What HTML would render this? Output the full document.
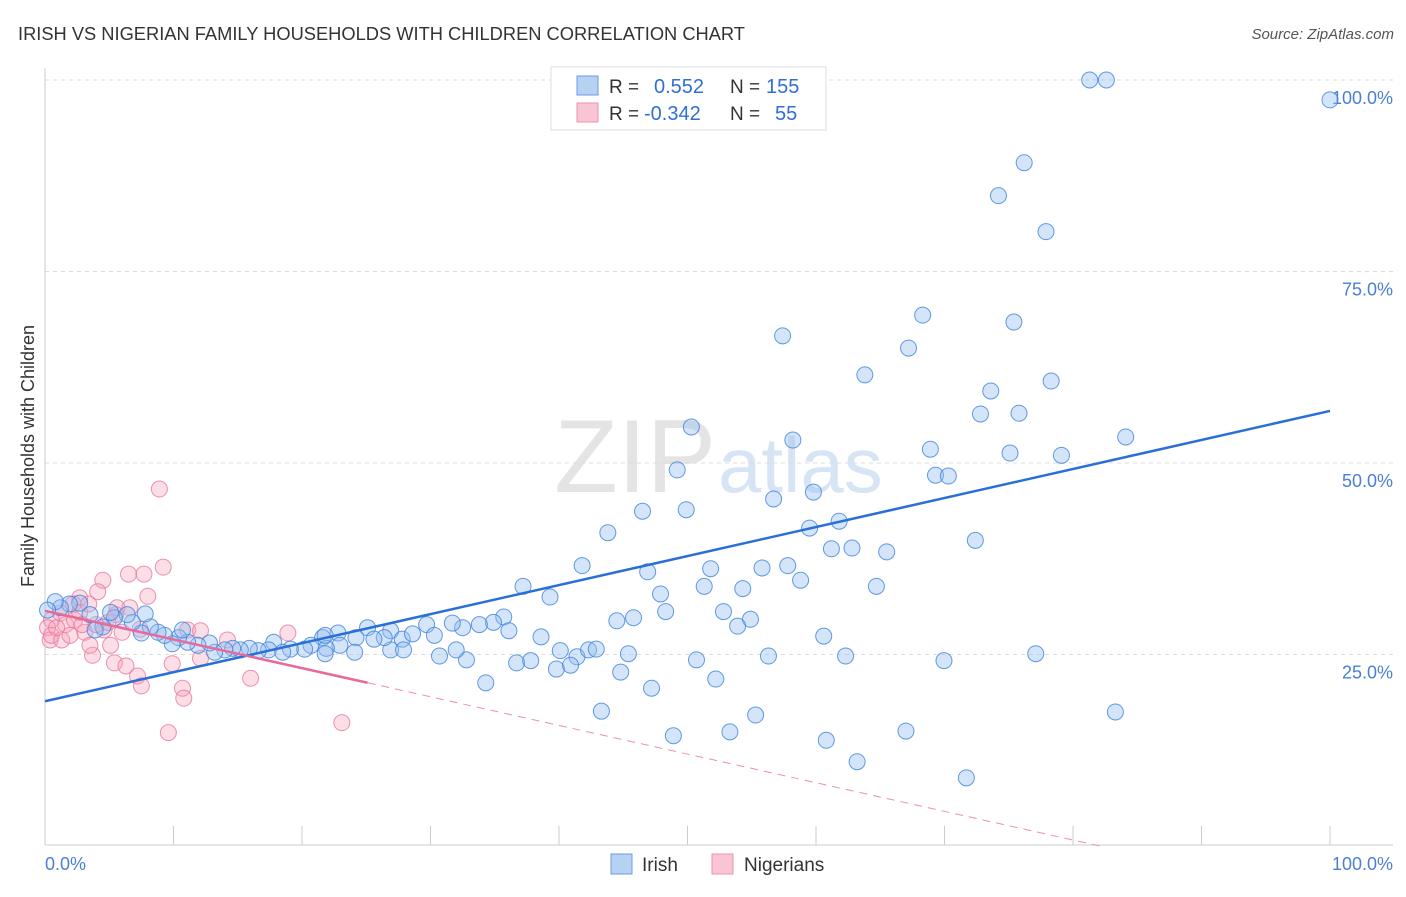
<!DOCTYPE html>
<html><head><meta charset="utf-8"><style>
body{margin:0;background:#fff;font-family:"Liberation Sans",sans-serif;}
svg text{font-family:"Liberation Sans",sans-serif;}
</style></head><body>
<svg id="chart" width="1406" height="892" xmlns="http://www.w3.org/2000/svg">
<text x="18" y="40" font-size="18.3" fill="#333">IRISH VS NIGERIAN FAMILY HOUSEHOLDS WITH CHILDREN CORRELATION CHART</text>
<text x="1394" y="39" font-size="15" fill="#555" font-style="italic" text-anchor="end">Source: ZipAtlas.com</text>
<text x="716" y="492" font-size="104" fill="#e4e4e4" text-anchor="end" font-family="Liberation Serif">ZIP</text>
<text x="718" y="492" font-size="78" fill="#d6e4f5">atlas</text>
<g id="grid"></g>
<g id="axes"></g>
<g id="trends"></g>
<g id="pts"></g>
<text transform="translate(34,456) rotate(-90)" font-size="18" fill="#333" text-anchor="middle">Family Households with Children</text>
<text x="45" y="870" font-size="18" fill="#4a7fd4">0.0%</text>
<text x="1393" y="870" font-size="18" fill="#4a7fd4" text-anchor="end">100.0%</text>
<g>
<rect x="551" y="67" width="275" height="63" fill="#fff" stroke="#ddd"/>
<rect x="577" y="76" width="21" height="19" fill="#b7d1f3" stroke="#6a9be0"/>
<rect x="577" y="103" width="21" height="19" fill="#f9c5d4" stroke="#ec93ae"/>
<text x="609" y="93" font-size="19" fill="#333">R =</text>
<text x="654" y="93" font-size="20" fill="#2f6fd6">0.552</text>
<text x="730" y="93" font-size="19" fill="#333">N =</text>
<text x="766" y="93" font-size="20" fill="#2f6fd6">155</text>
<text x="609" y="120" font-size="19" fill="#333">R =</text>
<text x="644" y="120" font-size="20" fill="#2f6fd6">-0.342</text>
<text x="730" y="120" font-size="19" fill="#333">N =</text>
<text x="775" y="120" font-size="20" fill="#2f6fd6">55</text>
</g>
<g>
<rect x="611" y="854" width="21" height="20" fill="#b7d1f3" stroke="#6a9be0"/>
<text x="642" y="871" font-size="19" fill="#333">Irish</text>
<rect x="712" y="854" width="21" height="20" fill="#f9c5d4" stroke="#ec93ae"/>
<text x="744" y="871" font-size="19" fill="#333">Nigerians</text>
</g>
</svg>
<script>
const yTicks=[25,50,75,100];
const yTickLabels=["25.0%","50.0%","75.0%","100.0%"];
const xTicks=[0,10,20,30,40,50,60,70,80,90,100];
const irishX=[81.3,82.6,100,76.2,74.2,77.9,68.3,75.4,57.4,67.2,78.3,63.8,73.6,72.8,75.8,84.1,50.3,58.2,68.9,75.1,79.1,49.2,69.3,70.3,59.8,56.7,49.9,46.5,61.8,59.5,43.8,72.4,61.2,62.8,65.5,41.8,51.8,55.8,57.8,46.9,58.8,37.2,51.3,54.3,64.7,47.9,39.3,48.3,52.8,54.9,45.8,44.5,53.9,35.7,34.9,33.8,32.5,31.7,29.7,36.1,38.6,60.6,26.9,27.8,26.9,25.1,26.4,28.6,30.3,22.8,24.2,25.6,21.6,20.7,22.95,21.9,20.2,19.1,17.8,17.4,18.5,16.6,15.9,15.2,14.6,14,13.2,12.8,11.9,11.1,10.4,9.9,10.7,9.3,8.8,8.2,7.5,6.8,6.4,5.4,4.5,3.9,3.5,2.7,1.9,1.2,0.8,0.2,5.1,7.8,21.8,24.1,27.9,30.7,32.8,36.7,37.8,40.1,41.4,42.3,42.9,45.4,50.7,56.3,62.3,69.96,77.1,39.8,40.9,44.8,52.2,34.3,47.2,43.3,55.3,83.3,48.9,53.3,67,60.8,63.2,71.7,21.8,32];
const irishY=[100,100,97.4,89.2,84.9,80.2,69.3,68.4,66.6,65,60.7,61.5,59.4,56.4,56.5,53.4,54.7,53,51.8,51.3,51,49.1,48.4,48.3,46.2,45.3,43.9,43.7,42.4,41.5,40.9,39.9,38.8,38.9,38.4,36.6,36.2,36.3,36.6,35.8,34.7,33.9,33.9,33.6,33.9,32.9,32.5,30.6,30.6,29.6,29.8,29.4,28.7,29.9,29.2,28.9,28.5,29.1,28.9,28.1,27.3,27.4,28.1,27,25.6,28.5,27.2,27.7,27.5,27.8,27.2,27,27.2,26.2,26.2,25.8,25.7,25.7,26.6,25.6,25.3,25.5,25.8,25.6,25.8,25.6,25.3,26.5,26.2,26.6,27.2,26.4,28.2,27.5,27.9,28.6,27.8,29.2,30.2,29.8,28.6,28.2,30.2,31.7,31.6,31.1,31.9,30.8,30.5,30.3,25.1,25.3,25.6,24.8,24.3,23.9,24.2,25.5,24.7,25.6,25.7,25.1,24.3,24.8,24.8,24.2,25.1,23.1,23.6,22.7,21.8,21.3,20.6,17.6,17.1,17.5,14.4,14.9,15,13.8,11,8.9,27.5,25.6];
const nigX=[8.9,9.2,6.5,7.7,4.5,8,4.1,2.7,2.2,6.6,5.6,1.2,0.5,0.2,0.4,0.5,1.6,2.3,3.1,3.7,4.6,5.1,6,5.5,11.1,12.1,14.2,18.9,9.9,5.4,6.3,7.2,7.5,10.7,10.8,12.1,16,23.1,9.6,2.7,3.4,1.3,4.9,2.9,0.9,1.95,3.97,7.4,3.5];
const nigY=[46.6,36.4,35.5,35.5,34.7,32.6,33.2,32.4,31.6,31.1,31.1,30.4,29.5,28.5,26.9,27.5,28.9,29.5,27.9,24.9,28.2,26.2,27.9,30.2,28.2,28.1,26.9,27.8,23.8,23.9,23.5,22.2,20.9,20.6,19.3,24.5,21.9,16.1,14.8,30.5,31.6,26.9,29.2,28.9,28.5,27.5,28.9,28.3,26.2];
const irishTrend=[18.9,56.8];   // value at x=0, x=100
const nigTrend=[30.7,-0.374];   // intercept, slope per %
const NS='http://www.w3.org/2000/svg';
const sx=v=>45+v*12.85, sy=v=>846-v*7.66;
function mk(t,a,p){const e=document.createElementNS(NS,t);for(const k in a)e.setAttribute(k,a[k]);p.appendChild(e);return e;}
const grid=document.getElementById('grid'),axes=document.getElementById('axes'),tr=document.getElementById('trends'),pts=document.getElementById('pts');
yTicks.forEach((v,i)=>{
 const l=mk('line',{x1:45,x2:1393,y1:sy(v),y2:sy(v),stroke:'#ddd','stroke-dasharray':'4,4'},grid);
 
 
 const t=mk('text',{x:1393,y:sy(v)+24,'font-size':18,fill:'#4a7fd4','text-anchor':'end'},grid);
 t.textContent=yTickLabels[i];
 
 
});
const ax=mk('line',{x1:45,x2:1393,y1:845,y2:845,stroke:'#ccc'},axes);


const ay=mk('line',{x1:45,x2:45,y1:68,y2:845,stroke:'#ccc'},axes);


xTicks.forEach(v=>{
 const t=mk('line',{x1:sx(v),x2:sx(v),y1:826,y2:845,stroke:'#ccc'},axes);
 
 
});
nigX.forEach((x,i)=>{
 const c=mk('circle',{cx:sx(x),cy:sy(nigY[i]),r:8,fill:'rgba(245,160,185,0.35)',stroke:'rgba(232,120,155,0.8)','stroke-width':1},pts);
 
 
});
irishX.forEach((x,i)=>{
 const c=mk('circle',{cx:sx(x),cy:sy(irishY[i]),r:8,fill:'rgba(150,190,240,0.4)',stroke:'rgba(60,130,220,0.8)','stroke-width':1},pts);
 
 
});
const it=mk('line',{x1:sx(0),y1:sy(irishTrend[0]),x2:sx(100),y2:sy(irishTrend[1]),stroke:'#2a6fd8','stroke-width':2.5},pts);


const nf=x=>nigTrend[0]+nigTrend[1]*x;
const ns=mk('line',{x1:sx(0),y1:sy(nf(0)),x2:sx(25.1),y2:sy(nf(25.1)),stroke:'#e8699a','stroke-width':2.5},pts);


const xe=-nigTrend[0]/nigTrend[1];
const nd=mk('line',{x1:sx(25.1),y1:sy(nf(25.1)),x2:sx(xe),y2:sy(0),stroke:'#eb8fb0','stroke-width':1,'stroke-dasharray':'8,6'},pts);


</script>
</body></html>
